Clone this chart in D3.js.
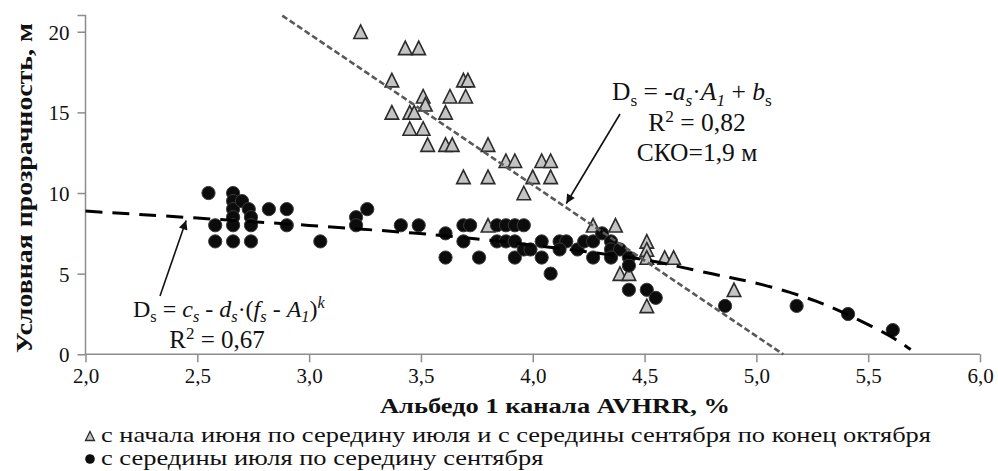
<!DOCTYPE html>
<html><head><meta charset="utf-8">
<script src="https://cdn.jsdelivr.net/npm/d3@7"></script>
<style>
html,body{margin:0;padding:0;background:#fff;}
svg{display:block;font-family:"Liberation Serif","Times New Roman",serif;}
</style>
</head><body>
<svg id="c" width="998" height="471"></svg>
<script>
// ---- data ----
const xTicks = [2.0, 2.5, 3.0, 3.5, 4.0, 4.5, 5.0, 5.5, 6.0];
const xTickLabels = ["2,0","2,5","3,0","3,5","4,0","4,5","5,0","5,5","6,0"];
const yTicks = [0, 5, 10, 15, 20];

// series 1: triangles (June–mid July, mid Sept–end Oct)
const triX = [3.23,3.43,3.49,3.37,3.69,3.71,3.51,3.63,3.70,3.52,3.37,3.45,3.47,3.61,3.45,3.51,3.53,3.61,3.64,3.80,3.88,3.92,4.04,4.08,3.69,3.80,4.00,4.08,3.96,3.80,4.27,4.37,4.51,4.51,4.51,4.59,4.63,4.39,4.43,4.51,4.90];
const triY = [20,19,19,17,17,17,16,16,16,15.5,15,15,15,15,14,14,13,13,13,13,12,12,12,12,11,11,11,11,10,8,8,8,7,6.5,6,6,6,5,5,3,4];

// series 2: circles (mid July – mid Sept)
const cirX = [2.55,2.58,2.58,2.66,2.66,2.66,2.66,2.66,2.66,2.70,2.73,2.74,2.74,2.74,2.82,2.90,2.90,3.05,3.21,3.21,3.26,3.41,3.49,3.61,3.61,3.69,3.72,3.69,3.76,3.84,3.88,3.92,3.96,3.84,3.88,3.92,3.92,3.96,3.99,4.04,4.04,4.08,4.12,4.15,4.12,4.20,4.23,4.27,4.27,4.31,4.35,4.35,4.39,4.35,4.43,4.43,4.43,4.51,4.55,4.86,5.18,5.41,5.61];
const cirY = [10,8,7,10,9.5,9,8.5,8,7,9.5,9,8.5,8,7,9,9,8,7,8.5,8,9,8,8,7.5,6,8,8,7,6,8,8,8,8,7,7,7,6,6.5,6.5,7,6,5,7,7,6.5,6.5,7,7,6,7.5,7,6.5,6.5,6,6,5.5,4,4,3.5,3,3,2.5,1.5];

// linear trend (gray dotted), endpoints
const linX = [2.88, 5.12];
const linY = [21, 0];

// power-type trend (black dashed)
const curX = [2.0, 2.5, 3.0, 3.5, 3.8, 4.1, 4.5, 4.66, 4.81, 4.91, 5.03, 5.15, 5.27, 5.37, 5.48, 5.60, 5.69];
const curY = [8.88, 8.45, 8.0, 7.5, 7.1, 6.6, 5.93, 5.41, 4.96, 4.69, 4.32, 3.85, 3.3, 2.72, 1.98, 1.15, 0.3];

const legendLabels = [
  "с начала июня по середину июля и с середины сентября по конец октября",
  "с середины июля по середину сентября"
];
const yTitle = "Условная прозрачность, м";
const xTitle = "Альбедо 1 канала AVHRR, %";

// ---- drawing ----
const svg = d3.select("#c");
const x = d3.scaleLinear().domain([2, 6]).range([85.5, 980]);
const y = d3.scaleLinear().domain([0, 21]).range([354.3, 15.6]);
const axisColor = "#8c8c8c";

const defs = svg.append("defs");
defs.append("marker").attr("id","ah").attr("viewBox","0 0 10 10")
  .attr("refX",10).attr("refY",5).attr("markerWidth",14).attr("markerHeight",9)
  .attr("markerUnits","userSpaceOnUse").attr("orient","auto")
  .append("path").attr("d","M0,0 L10,5 L0,10 z").attr("fill","#111");

// axes
const gx = svg.append("g").attr("transform",`translate(0,${y(0)})`)
  .call(d3.axisBottom(x).tickValues(xTicks).tickFormat((d,i)=>xTickLabels[i]).tickSize(8).tickPadding(6));
const gy = svg.append("g").attr("transform",`translate(${x(2)},0)`)
  .call(d3.axisLeft(y).tickValues(yTicks).tickSize(8).tickPadding(8));
[gx,gy].forEach(g=>{
  g.select(".domain").attr("stroke",axisColor).attr("stroke-width",1.5);
  g.selectAll(".tick line").attr("stroke",axisColor).attr("stroke-width",1.5);
  g.selectAll(".tick text").attr("fill","#111").attr("font-size",21)
    .attr("font-family",'"Liberation Serif","Times New Roman",serif');
});
gy.select(".domain").attr("d",`M-8,${y(21)}H0V${y(0)}`);
gy.selectAll(".tick text").attr("dy","0.35em");
gx.select(".domain").attr("d",`M${x(2)},0H${x(6)}`);

// triangles
const triPath = s => `M0,${-s/2}L${s/2},${s/2}L${-s/2},${s/2}Z`;
svg.append("g").selectAll("path").data(triX.map((v,i)=>[v,triY[i]])).join("path")
  .attr("d",triPath(13.5))
  .attr("transform",d=>`translate(${x(d[0])},${y(d[1])})`)
  .attr("fill","#c4c4c4").attr("stroke","#2b2b2b").attr("stroke-width",1.6)
  .attr("stroke-linejoin","miter");

// circles
svg.append("g").selectAll("circle").data(cirX.map((v,i)=>[v,cirY[i]])).join("circle")
  .attr("cx",d=>x(d[0])).attr("cy",d=>y(d[1])).attr("r",6.6)
  .attr("fill","#0c0c0c").attr("stroke","#3a3a3a").attr("stroke-width",1);

// trend lines
const line = d3.line().x(d=>x(d[0])).y(d=>y(d[1]));
svg.append("path").datum(linX.map((v,i)=>[v,linY[i]]))
  .attr("d",line).attr("fill","none").attr("stroke","#595959")
  .attr("stroke-width",2.6).attr("stroke-dasharray","6,3");
svg.append("path").datum(curX.map((v,i)=>[v,curY[i]]))
  .attr("d",d3.line().x(d=>x(d[0])).y(d=>y(d[1])).curve(d3.curveBasis)).attr("fill","none").attr("stroke","#000")
  .attr("stroke-width",3).attr("stroke-dasharray","17,10");

// annotations - arrows
svg.append("line").attr("x1",620).attr("y1",114).attr("x2",x(4.15)).attr("y2",y(9.35))
  .attr("stroke","#111").attr("stroke-width",1.6).attr("marker-end","url(#ah)");
svg.append("line").attr("x1",160).attr("y1",296).attr("x2",x(2.45)).attr("y2",y(8.3))
  .attr("stroke","#111").attr("stroke-width",1.6).attr("marker-end","url(#ah)");

// annotation text helper
function rich(xp, yp, parts, size){
  const t = svg.append("text").attr("x",xp).attr("y",yp).attr("font-size",size).attr("fill","#111");
  let shift = 0;
  parts.forEach(p=>{
    const sp = t.append("tspan").text(p.t);
    if(p.i) sp.attr("font-style","italic");
    let target = p.sub ? size*0.22 : (p.sup ? -size*0.36 : 0);
    if(target!==shift){ sp.attr("dy", target-shift); shift = target; }
    if(p.sub||p.sup) sp.attr("font-size", size*0.68);
  });
  return t;
}
const fsR = 25.5, fsL = 25;
rich(612, 100, [{t:"D"},{t:"s",sub:1},{t:" = -"},{t:"a",i:1},{t:"s",i:1,sub:1},{t:"·"},{t:"A",i:1},{t:"1",i:1,sub:1},{t:" + "},{t:"b",i:1},{t:"s",sub:1}], fsR);
rich(697, 131, [{t:"R"},{t:"2",sup:1},{t:" = 0,82"}], fsR).attr("text-anchor","middle");
svg.append("text").attr("x",697).attr("y",161).attr("font-size",fsR).attr("text-anchor","middle").attr("fill","#111").text("СКО=1,9 м");

rich(133, 317, [{t:"D"},{t:"s",sub:1},{t:" = "},{t:"c",i:1},{t:"s",i:1,sub:1},{t:" - "},{t:"d",i:1},{t:"s",i:1,sub:1},{t:"·("},{t:"f",i:1},{t:"s",i:1,sub:1},{t:" - "},{t:"A",i:1},{t:"1",i:1,sub:1},{t:")"},{t:"k",i:1,sup:1}], 24);
rich(217, 348, [{t:"R"},{t:"2",sup:1},{t:" = 0,67"}], fsL).attr("text-anchor","middle");

// axis titles
svg.append("text").attr("transform","translate(32,188) rotate(-90)")
  .attr("text-anchor","middle").attr("font-weight","bold").attr("font-size",24).attr("fill","#111")
  .attr("textLength",330).attr("lengthAdjust","spacingAndGlyphs").text(yTitle);
svg.append("text").attr("x",555).attr("y",413).attr("text-anchor","middle")
  .attr("font-weight","bold").attr("font-size",22).attr("fill","#111")
  .attr("textLength",350).attr("lengthAdjust","spacingAndGlyphs").text(xTitle);

// legend
const lg = svg.append("g");
lg.append("path").attr("d",triPath(9)).attr("transform","translate(90,436)")
  .attr("fill","#c4c4c4").attr("stroke","#2b2b2b").attr("stroke-width",1.3);
lg.append("circle").attr("cx",90).attr("cy",459).attr("r",4.8).attr("fill","#0c0c0c");
const t1 = lg.append("text").attr("x",101).attr("y",442).attr("font-size",22).attr("fill","#111").text(legendLabels[0]);
const t2 = lg.append("text").attr("x",101).attr("y",465).attr("font-size",22).attr("fill","#111").text(legendLabels[1]);
const w1 = t1.node().getComputedTextLength(), w2 = t2.node().getComputedTextLength();
const k = 830 / w1;
t1.attr("textLength", w1*k).attr("lengthAdjust","spacingAndGlyphs");
t2.attr("textLength", w2*k).attr("lengthAdjust","spacingAndGlyphs");
</script>
</body></html>
